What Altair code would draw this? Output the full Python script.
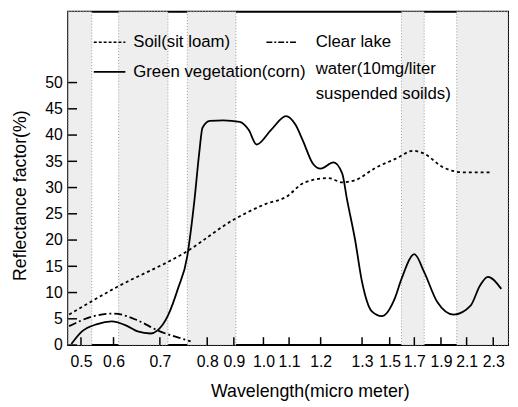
import altair as alt
import pandas as pd

# ---------------- data ----------------
tick_wl = [0.5, 0.6, 0.7, 0.8, 0.9, 1.0, 1.1, 1.2, 1.3, 1.5, 1.7, 1.9, 2.1, 2.3]
y_ticks = [0, 5, 10, 15, 20, 25, 30, 35, 40, 45, 50]

band_start = [0.46, 0.611, 0.758, 1.596, 2.023]
band_end = [0.533, 0.717, 0.907, 1.774, 2.41]

veg_wl = [0.47, 0.503, 0.55, 0.594, 0.63, 0.652, 0.68, 0.695, 0.717, 0.738, 0.758, 0.765,
          0.773, 0.783, 0.79, 0.81, 0.86, 0.92, 0.95, 0.977, 1.03, 1.088, 1.12, 1.144,
          1.175, 1.2, 1.231, 1.252, 1.264, 1.283, 1.30, 1.371, 1.443, 1.54, 1.596, 1.7,
          1.774, 1.87, 2.0, 2.13, 2.2, 2.26, 2.36]
veg_val = [0.2, 2.6, 4.0, 4.5, 3.6, 2.6, 2.2, 2.8, 5.6, 10.7, 17.0, 21.5,
           27.6, 36.5, 41.4, 42.7, 42.8, 42.5, 41.0, 38.2, 41.0, 43.6, 42.0, 38.9,
           34.6, 33.6, 34.8, 32.7, 27.6, 20.1, 12.0, 6.4, 5.5, 8.8, 12.6, 17.3,
           13.9, 8.3, 5.8, 7.5, 11.3, 13.0, 10.7]

soil_wl = [0.463, 0.6, 0.758, 0.9, 0.943, 1.01, 1.088, 1.15, 1.219, 1.252, 1.283, 1.4,
           1.55, 1.69, 1.77, 1.92, 2.08, 2.28]
soil_val = [5.8, 10.7, 17.9, 23.9, 25.2, 26.9, 28.2, 31.0, 31.8, 31.0, 31.4, 33.8,
            35.5, 37.0, 36.5, 33.8, 32.9, 32.9]

lake_wl = [0.463, 0.533, 0.6, 0.652, 0.695, 0.758, 0.765]
lake_val = [3.6, 5.4, 6.0, 4.7, 2.8, 0.9, 0.7]

legend_labels = ["Soil(sit loam)", "Green vegetation(corn)"]
lake_label = ["Clear lake", "water(10mg/liter", "suspended soilds)"]

# ---------------- layout ----------------
W, H = 446, 338
Y_MAX = 63.5
x_domain = [0.46] + tick_wl + [2.41]
x_range = [0, 13, 46, 93, 141, 168, 198, 224, 256, 298, 326, 351, 378, 404, 431, 446]
FONT = "Liberation Sans"

xs = alt.Scale(domain=x_domain, range=x_range, nice=False, zero=False)
ys = alt.Scale(domain=[0, Y_MAX], nice=False, zero=False)

bands = pd.DataFrame({"s": band_start, "e": band_end, "y0": 0, "y1": Y_MAX})
veg = pd.DataFrame({"wl": veg_wl, "v": veg_val})
soil = pd.DataFrame({"wl": soil_wl, "v": soil_val})
lake = pd.DataFrame({"wl": lake_wl, "v": lake_val})
xt = pd.DataFrame({"wl": tick_wl})
yt = pd.DataFrame({"v": y_ticks})

x_axis = alt.Axis(values=tick_wl, format=".1f", title="Wavelength(micro meter)",
                  labelOverlap=False, labelFlush=False, labelPadding=9,
                  titleX=245, titleY=47, titleAlign="center", titleBaseline="middle")
y_axis = alt.Axis(values=y_ticks, title="Reflectance factor(%)",
                  labelPadding=6, labelOverlap=False, labelFlush=False,
                  titleX=-48, titleY=186, titleAlign="center",
                  titleBaseline="middle", titleAngle=270)

X = lambda f: alt.X(f, scale=xs, axis=x_axis)
Y = lambda f: alt.Y(f, scale=ys, axis=y_axis)

band_layer = alt.Chart(bands).mark_rect(
    fill="#eeeeee", stroke="#9a9a9a", strokeWidth=1, strokeDash=[1, 2]
).encode(x=X("s:Q"), x2="e:Q", y=Y("y0:Q"), y2="y1:Q")

soil_layer = alt.Chart(soil).mark_line(
    color="black", strokeWidth=1.8, strokeDash=[3, 3], interpolate="monotone"
).encode(x=X("wl:Q"), y=Y("v:Q"))

veg_layer = alt.Chart(veg).mark_line(
    color="black", strokeWidth=1.8, interpolate="monotone"
).encode(x=X("wl:Q"), y=Y("v:Q"))

lake_layer = alt.Chart(lake).mark_line(
    color="black", strokeWidth=1.8, strokeDash=[8, 3, 2, 3], interpolate="monotone"
).encode(x=X("wl:Q"), y=Y("v:Q"))

xtick_layer = alt.Chart(xt).mark_rule(color="black", strokeWidth=1.5).encode(
    x=X("wl:Q"), y=alt.value(H - 8), y2=alt.value(H)
)
ytick_layer = alt.Chart(yt).mark_rule(color="black", strokeWidth=1.5).encode(
    y=Y("v:Q"), x=alt.value(0), x2=alt.value(9)
)

# legend (drawn inside the plot)
one = pd.DataFrame({"k": [0]})
leg_soil_line = alt.Chart(one).mark_rule(
    color="black", strokeWidth=1.5, strokeDash=[3, 2]
).encode(x=alt.value(26), x2=alt.value(58), y=alt.value(31))
leg_veg_line = alt.Chart(one).mark_rule(
    color="black", strokeWidth=1.8
).encode(x=alt.value(26), x2=alt.value(58), y=alt.value(61))
leg_lake_line = alt.Chart(one).mark_rule(
    color="black", strokeWidth=1.5, strokeDash=[6, 2, 2, 2]
).encode(x=alt.value(201), x2=alt.value(231), y=alt.value(31))

leg_df = pd.DataFrame({"t": legend_labels, "yy": [31, 61]})
leg_text = alt.Chart(leg_df).mark_text(
    font=FONT, fontSize=17, align="left", baseline="middle", color="black"
).encode(text="t:N", x=alt.value(66), y=alt.Y("yy:Q", scale=None))

lake_df = pd.DataFrame({"t": lake_label, "yy": [31, 58, 84]})
lake_text = alt.Chart(lake_df).mark_text(
    font=FONT, fontSize=17, align="left", baseline="middle", color="black"
).encode(text="t:N", x=alt.value(251), y=alt.Y("yy:Q", scale=None))

chart = alt.layer(
    band_layer, soil_layer, veg_layer, lake_layer, xtick_layer, ytick_layer,
    leg_soil_line, leg_veg_line, leg_lake_line, leg_text, lake_text
).properties(
    width=W, height=H,
    background="white",
    autosize=alt.AutoSizeParams(type="none"),
    padding={"left": 61, "top": 1, "right": 2, "bottom": 55},
).configure_view(
    stroke="black", strokeWidth=2
).configure_axis(
    labelFont=FONT, labelFontSize=16, labelColor="black",
    labelOverlap=False, labelFlush=False,
    ticks=False, tickSize=0, domain=False, grid=False,
    titleFont=FONT, titleFontSize=18, titleFontWeight="normal", titleColor="black",
)

chart.save("out.html", embed_options={"renderer": "svg", "actions": False})
